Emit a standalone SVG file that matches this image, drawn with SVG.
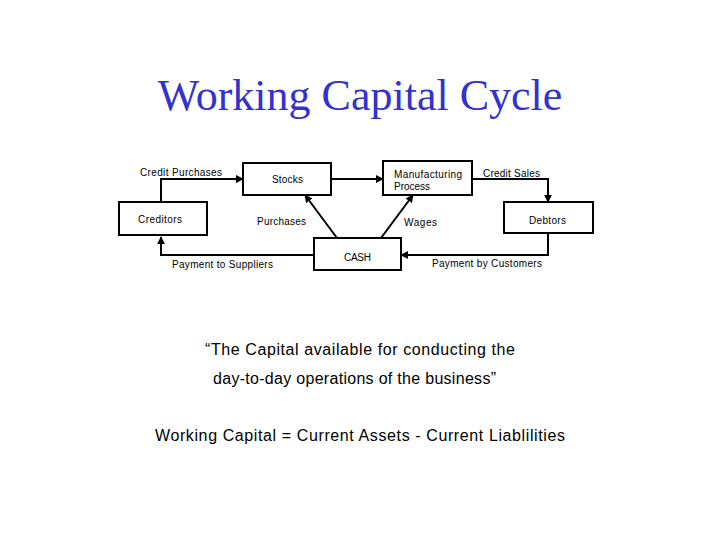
<svg xmlns="http://www.w3.org/2000/svg" width="720" height="540" viewBox="0 0 720 540">
<style>
.b{fill:#fff;stroke:#000;stroke-width:2}
.l{fill:none;stroke:#000;stroke-width:2;marker-end:url(#a)}
.t{font-family:"Liberation Sans",Arial,sans-serif;font-size:10px;fill:#000}
.q{font-family:"Liberation Sans",Arial,sans-serif;font-size:16px;fill:#000}
</style>
<defs><marker id="a" viewBox="0 0 10 10" refX="9" refY="5" markerWidth="4" markerHeight="4" orient="auto"><path d="M0,0L10,5L0,10z" fill="#000"/></marker></defs>
<rect width="720" height="540" fill="#fff"/>
<text x="360" y="110" text-anchor="middle" font-family="'Liberation Serif',serif" font-size="44" fill="#3333cc">Working Capital Cycle</text>
<g id="connectors">
<path class="l" d="M161,202V179H243"/>
<path class="l" d="M331,179H383"/>
<path class="l" d="M472,179H548V202"/>
<path class="l" d="M548,233V255H401"/>
<path class="l" d="M314,255H161V237"/>
<path class="l" d="M337,238L305,195"/>
<path class="l" d="M381,238L413,195"/>
</g>
<g id="creditors"><rect class="b" x="119" y="202" width="88" height="33"/><text class="t" x="138" y="223" textLength="44">Creditors</text></g>
<g id="stocks"><rect class="b" x="243" y="163" width="88" height="32"/><text class="t" x="272" y="183" textLength="31">Stocks</text></g>
<g id="manufacturing"><rect class="b" x="383" y="161" width="89" height="34"/><text class="t" x="394" y="178" textLength="68">Manufacturing</text><text class="t" x="394" y="190">Process</text></g>
<g id="debtors"><rect class="b" x="504" y="202" width="89" height="31"/><text class="t" x="529" y="224" textLength="37">Debtors</text></g>
<g id="cash"><rect class="b" x="314" y="238" width="87" height="32"/><text class="t" x="344" y="261" textLength="27">CASH</text></g>
<g id="labels">
<text class="t" x="140" y="176" textLength="82">Credit Purchases</text>
<text class="t" x="483" y="177" textLength="57">Credit Sales</text>
<text class="t" x="257" y="225" textLength="49">Purchases</text>
<text class="t" x="404" y="226" textLength="33">Wages</text>
<text class="t" x="172" y="268" textLength="101">Payment to Suppliers</text>
<text class="t" x="432" y="267" textLength="110">Payment by Customers</text>
</g>
<text class="q" x="205" y="355" textLength="310">“The Capital available for conducting the</text>
<text class="q" x="213" y="384" textLength="283">day-to-day operations of the business”</text>
<text class="q" x="155" y="441" textLength="410">Working Capital = Current Assets - Current Liablilities</text>
</svg>
